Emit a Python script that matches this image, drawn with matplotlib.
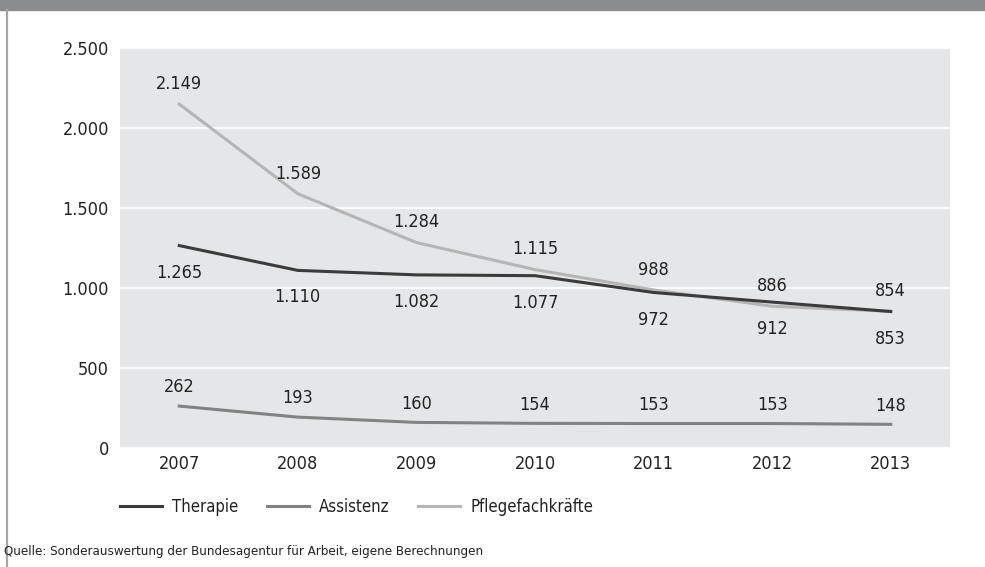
import matplotlib
matplotlib.use("Agg")
import matplotlib.pyplot as plt
from matplotlib.lines import Line2D
from matplotlib.patches import Rectangle

plt.rcParams["font.family"] = ["Liberation Sans Narrow", "DejaVu Sans"]
plt.rcParams["font.stretch"] = "condensed"

years = ["2007", "2008", "2009", "2010", "2011", "2012", "2013"]
therapie = [1265, 1110, 1082, 1077, 972, 912, 853]
assistenz = [262, 193, 160, 154, 153, 153, 148]
pflege = [2149, 1589, 1284, 1115, 988, 886, 854]
yticks = [0, 500, 1000, 1500, 2000, 2500]
ytick_labels = ["0", "500", "1.000", "1.500", "2.000", "2.500"]

C_THER = "#3b3b3b"
C_ASS = "#828282"
C_PFL = "#b5b5b5"
TXT = "#222222"
FS = 13

W, H = 985, 567
fig = plt.figure(figsize=(W / 100, H / 100), dpi=100)

# frame decoration: top band and left rule
fig.patches.append(Rectangle((0, 1 - 10 / H), 1, 10 / H, transform=fig.transFigure,
                             color="#8b8c8e", zorder=0))
fig.add_artist(Line2D([7 / W, 7 / W], [0, 1 - 10 / H], transform=fig.transFigure,
                      color="#a6a6a6", lw=1.6))

ax = fig.add_axes([120 / W, 1 - 448 / H, 830 / W, 400 / H])
ax.set_facecolor("#e5e6e7")
for s in ax.spines.values():
    s.set_visible(False)
ax.set_xlim(-0.5, 6.5)
ax.set_ylim(0, 2500)
ax.set_yticks(yticks)
ax.set_yticklabels(ytick_labels)
ax.set_xticks(range(len(years)))
ax.set_xticklabels(years)
ax.tick_params(length=0, labelsize=FS, colors=TXT)
ax.tick_params(axis="y", pad=8)
ax.tick_params(axis="x", pad=5)
ax.grid(axis="y", color="white", lw=1.3)
ax.set_axisbelow(True)

x = list(range(len(years)))
ax.plot(x, pflege, color=C_PFL, lw=2.2, zorder=3)
ax.plot(x, therapie, color=C_THER, lw=2.2, zorder=4)
ax.plot(x, assistenz, color=C_ASS, lw=2.2, zorder=3)


def fmt(v):
    return f"{v:,}".replace(",", ".")


for i in x:
    ax.annotate(fmt(pflege[i]), (i, pflege[i]), xytext=(0, 8), textcoords="offset points",
                ha="center", va="bottom", fontsize=FS, color=TXT)
    ax.annotate(fmt(therapie[i]), (i, therapie[i]), xytext=(0, -13), textcoords="offset points",
                ha="center", va="top", fontsize=FS, color=TXT)
    ax.annotate(fmt(assistenz[i]), (i, assistenz[i]), xytext=(0, 7), textcoords="offset points",
                ha="center", va="bottom", fontsize=FS, color=TXT)

handles = [Line2D([], [], color=C_THER, lw=2.2),
           Line2D([], [], color=C_ASS, lw=2.2),
           Line2D([], [], color=C_PFL, lw=2.2)]
fig.legend(handles, ["Therapie", "Assistenz", "Pflegefachkräfte"], ncol=3,
           loc="center left", bbox_to_anchor=(105 / W, 1 - 507 / H), frameon=False,
           fontsize=12, handlelength=2.5, columnspacing=1.75, handletextpad=0.6,
           labelcolor=TXT)

fig.text(4 / W, 1 - 552 / H,
         "Quelle: Sonderauswertung der Bundesagentur für Arbeit, eigene Berechnungen",
         fontsize=9.5, va="center", ha="left", color=TXT)

fig.savefig("out.png", dpi=100)
